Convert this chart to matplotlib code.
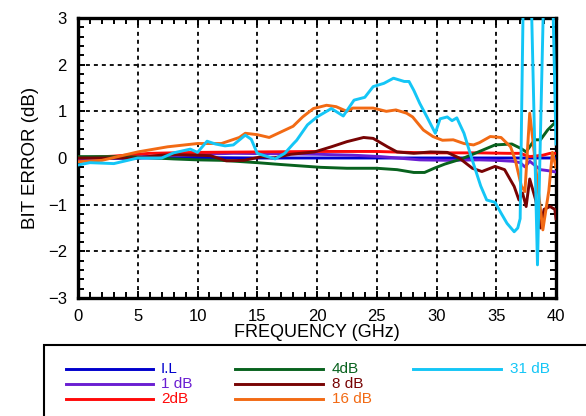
import matplotlib
matplotlib.use("Agg")
import matplotlib.pyplot as plt
from matplotlib.lines import Line2D
from matplotlib.patches import Rectangle
from matplotlib.ticker import MultipleLocator

plt.rcParams['font.family'] = ['Liberation Sans', 'DejaVu Sans']

# ---- measured bit error vs frequency for each attenuation state ----
freq_il = [0, 2, 5, 10, 15, 20, 25, 30, 35, 37, 38, 40]
err_il = [-0.04, -0.01, 0.0, 0.01, 0.0, 0.0, 0.0, 0.0, 0.0, 0.0, 0.0, 0.0]

freq_1db = [0, 3, 6, 10, 13, 17, 20, 23, 25.3, 28.6, 31, 33.6, 35, 36.4, 37.0,
            37.4, 37.8, 38.7, 39.3, 40]
err_1db = [-0.02, 0.0, 0.04, 0.08, 0.1, 0.09, 0.08, 0.06, 0.03, -0.04, -0.05,
           -0.04, -0.05, -0.07, -0.1, -0.19, -0.07, -0.25, -0.27, -0.3]

freq_2db = [0, 3, 6, 10, 15, 20, 25, 29, 33.6, 36, 37, 37.8, 38.9, 39.5, 40]
err_2db = [0.0, 0.04, 0.1, 0.12, 0.13, 0.14, 0.14, 0.11, 0.11, 0.1, 0.1, 0.03,
           0.06, 0.1, 0.1]

freq_4db = [0, 2, 5, 8, 10, 12, 15, 17, 20.3, 22.5, 25, 26.7, 28.1, 29, 29.8,
            30.7, 32.1, 33.5, 34.9, 36.3, 37.1, 37.5, 38.2, 38.7, 39.3, 40]
err_4db = [0.03, 0.03, 0.02, -0.02, -0.04, -0.05, -0.1, -0.14, -0.2, -0.22,
           -0.22, -0.25, -0.31, -0.31, -0.22, -0.13, -0.02, 0.13, 0.28, 0.3,
           0.2, 0.13, 0.39, 0.39, 0.6, 0.78]

freq_8db = [0, 3, 5, 6.9, 8.3, 10, 11.1, 12.4, 13.9, 15.4, 16.4, 17.8, 19.8,
            21.2, 22.5, 23.9, 24.7, 25.9, 26.7, 28.1, 29.5, 30.9, 31.9, 33.0,
            33.8, 34.9, 35.7, 36.5, 36.9, 37.2, 37.5, 37.8, 38.3, 38.7, 39.0,
            39.5, 39.9, 40]
err_8db = [0.0, 0.0, 0.0, 0.06, 0.07, 0.06, 0.05, -0.06, -0.05, 0.03, 0.0,
           0.08, 0.13, 0.24, 0.35, 0.44, 0.42, 0.24, 0.13, 0.1, 0.13, 0.12,
           0.0, -0.22, -0.29, -0.18, -0.25, -0.61, -0.9, -0.75, -1.04, -0.45,
           -0.9, -1.5, -1.1, -1.04, -1.1, -1.3]

freq_16db = [0, 2, 5, 7.5, 10, 12, 13.5, 14, 15, 16, 17, 18, 18.8, 19.7, 20.8,
             21.6, 22.5, 23, 24.7, 25.8, 26.6, 27.5, 28, 28.9, 29.7, 30.5,
             31.4, 32.3, 33.1, 33.6, 34.5, 35.4, 36.2, 36.6, 37.1, 37.4, 37.8,
             38.1, 38.5, 38.9, 39.4, 39.7, 40]
err_16db = [-0.08, -0.05, 0.13, 0.24, 0.31, 0.31, 0.44, 0.53, 0.5, 0.44, 0.56,
            0.68, 0.88, 1.06, 1.13, 1.1, 1.0, 1.07, 1.07, 1.0, 1.03, 0.96,
            0.88, 0.6, 0.46, 0.38, 0.39, 0.31, 0.28, 0.33, 0.46, 0.44, 0.24,
            -0.05, -0.6, -0.72, 0.96, 0.3, -0.66, -1.54, -0.7, 0.12, -0.2]

freq_31db = [0, 1, 3, 5, 7, 8, 9.4, 10, 10.8, 11.5, 12.3, 13, 14, 14.5, 15,
             15.6, 16.5, 17.3, 18, 18.3, 19.2, 20, 21.2, 22.2, 23.1, 24, 24.7,
             25.6, 26.4, 27.3, 27.7, 28.1, 28.6, 29.2, 29.9, 30.3, 30.9, 31.3,
             31.7, 32.3, 32.9, 33.7, 34.2, 34.9, 35.4, 35.9, 36.5, 36.8, 37.0,
             37.4, 37.7, 38.45, 39.1, 39.6, 40]
err_31db = [-0.15, -0.1, -0.12, 0.0, 0.0, 0.11, 0.19, 0.12, 0.36, 0.3, 0.26,
            0.28, 0.49, 0.4, 0.1, 0.05, -0.02, 0.1, 0.3, 0.38, 0.71, 0.88,
            1.06, 0.9, 1.24, 1.3, 1.53, 1.6, 1.71, 1.64, 1.64, 1.45, 1.17, 0.88,
            0.53, 0.84, 0.88, 0.8, 0.86, 0.53, 0.03, -0.6, -0.9, -0.95, -1.18,
            -1.4, -1.58, -1.5, -1.3, 6.0, 6.0, -2.29, 5.0, 5.0, 0.3]

labels = ["I.L", "1 dB", "2dB", "4dB", "8 dB", "16 dB", "31 dB"]
colors = ["#0000CC", "#6A1ED2", "#FF0A0A", "#08621E", "#780404", "#F26A14",
          "#14C6F6"]
series = [(freq_il, err_il), (freq_1db, err_1db), (freq_2db, err_2db),
          (freq_4db, err_4db), (freq_8db, err_8db), (freq_16db, err_16db),
          (freq_31db, err_31db)]

x_ticks = [0, 5, 10, 15, 20, 25, 30, 35, 40]
y_ticks = [-3, -2, -1, 0, 1, 2, 3]

W, H = 586, 416
fig = plt.figure(figsize=(W / 100, H / 100), dpi=100)
ax = fig.add_axes([78 / W, 1 - 298 / H, 478 / W, 280 / H])

for (f, e), c in zip(series, colors):
    ax.plot(f, e, color=c, lw=2.1, solid_joinstyle='round', zorder=3)

ax.set_xlim(0, 40)
ax.set_ylim(-3, 3)
ax.set_xticks(x_ticks)
ax.set_yticks(y_ticks)
ax.xaxis.set_minor_locator(MultipleLocator(1))
ax.yaxis.set_minor_locator(MultipleLocator(0.2))
ax.tick_params(which='both', direction='in', top=True, right=True,
               width=1.4, labelsize=12, pad=8)
ax.tick_params(which='major', length=5)
ax.tick_params(which='minor', length=4)
for s in ax.spines.values():
    s.set_linewidth(2.4)

# dashed grid on the interior major positions only
for xv in x_ticks[1:-1]:
    ax.axvline(xv, color='black', lw=1.3, dashes=(2.2, 2.2), zorder=1)
for yv in y_ticks[1:-1]:
    ax.axhline(yv, color='black', lw=1.3, dashes=(2.2, 2.2), zorder=1)

ax.set_xlabel("FREQUENCY (GHz)", fontsize=13, labelpad=0)
ax.set_ylabel("BIT ERROR (dB)", fontsize=13.5, labelpad=6)

# legend panel below the plot: three columns of colour swatches and names
fig.patches.append(Rectangle((44 / W, -0.2), 1.0, 1 - 345 / H + 0.2,
                             transform=fig.transFigure, fill=False,
                             edgecolor='black', lw=1.5))
col_x = [(66, 153, 161), (235, 323, 332), (413, 501, 510)]
row_y = [369, 384, 399]
for i, (lab, c) in enumerate(zip(labels, colors)):
    col, row = divmod(i, 3)
    x0, x1, xt = col_x[col]
    yy = 1 - row_y[row] / H
    fig.add_artist(Line2D([x0 / W, x1 / W], [yy, yy], color=c, lw=2.1,
                          transform=fig.transFigure))
    fig.text(xt / W, yy, lab, color=c, fontsize=11, va='center', ha='left')

fig.savefig("out.png", dpi=100)
